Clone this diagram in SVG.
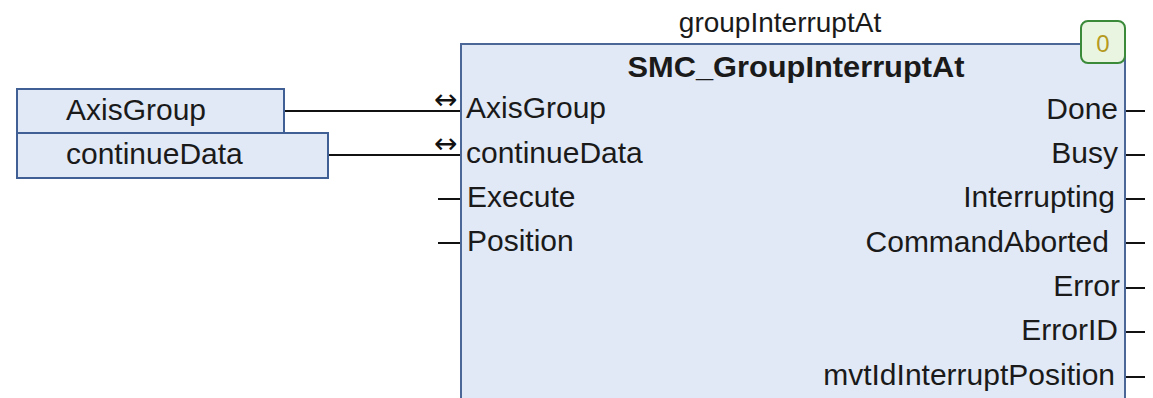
<svg xmlns="http://www.w3.org/2000/svg" width="1153" height="398" viewBox="0 0 1153 398">
<style>
.var{fill:#e1e9f6;stroke:#3f5f95;stroke-width:2}
.fb{fill:#e1e9f6;stroke:#4a6797;stroke-width:2}
.t{font-family:"Liberation Sans",Arial,sans-serif;font-size:30px;fill:#1a1a1a}
.r{text-anchor:end}
.w{stroke:#111;stroke-width:2;fill:none}
.io{font-family:"DejaVu Sans",sans-serif;font-size:28px;fill:#111}
</style>
<rect width="1153" height="398" fill="#ffffff"/>
<g id="connectors">
<line class="w" x1="284" y1="111" x2="461" y2="111"/>
<line class="w" x1="329" y1="155" x2="461" y2="155"/>
<line class="w" x1="438" y1="199" x2="461" y2="199"/>
<line class="w" x1="438" y1="243" x2="461" y2="243"/>
<line class="w" x1="1125" y1="111" x2="1145" y2="111"/>
<line class="w" x1="1125" y1="155" x2="1145" y2="155"/>
<line class="w" x1="1125" y1="199" x2="1145" y2="199"/>
<line class="w" x1="1125" y1="243" x2="1145" y2="243"/>
<line class="w" x1="1125" y1="288" x2="1145" y2="288"/>
<line class="w" x1="1125" y1="332" x2="1145" y2="332"/>
<line class="w" x1="1125" y1="377" x2="1145" y2="377"/>
</g>
<g id="var-AxisGroup">
<rect class="var" x="17" y="89" width="267" height="44"/>
<text class="t" x="66" y="120">AxisGroup</text>
</g>
<g id="var-continueData">
<rect class="var" x="17" y="133" width="311" height="45"/>
<text class="t" x="66" y="164">continueData</text>
</g>
<g id="fb-groupInterruptAt">
<text class="t" x="780" y="32" text-anchor="middle" style="font-size:28px">groupInterruptAt</text>
<rect class="fb" x="461" y="44" width="664" height="370"/>
<text class="t" x="796" y="77" text-anchor="middle" font-weight="bold" textLength="337" lengthAdjust="spacingAndGlyphs">SMC_GroupInterruptAt</text>
<text class="io" x="434" y="109">↔</text>
<text class="io" x="434" y="153">↔</text>
<text class="t" x="466" y="118">AxisGroup</text>
<text class="t" x="466" y="163">continueData</text>
<text class="t" x="467" y="207">Execute</text>
<text class="t" x="467" y="251">Position</text>
<text class="t r" x="1118" y="119">Done</text>
<text class="t r" x="1118" y="163">Busy</text>
<text class="t r" x="1115" y="207">Interrupting</text>
<text class="t r" x="1109" y="252">CommandAborted</text>
<text class="t r" x="1120" y="296">Error</text>
<text class="t r" x="1118" y="340">ErrorID</text>
<text class="t r" x="1115" y="385">mvtIdInterruptPosition</text>
</g>
<g id="badge-0">
<rect x="1081" y="21" width="44" height="42" rx="7" ry="7" fill="#e9f5e1" stroke="#3a8a3a" stroke-width="2"/>
<text x="1103" y="52" text-anchor="middle" style="font-family:'Liberation Sans',Arial,sans-serif;font-size:24px;fill:#b59a1e">0</text>
</g>
</svg>
